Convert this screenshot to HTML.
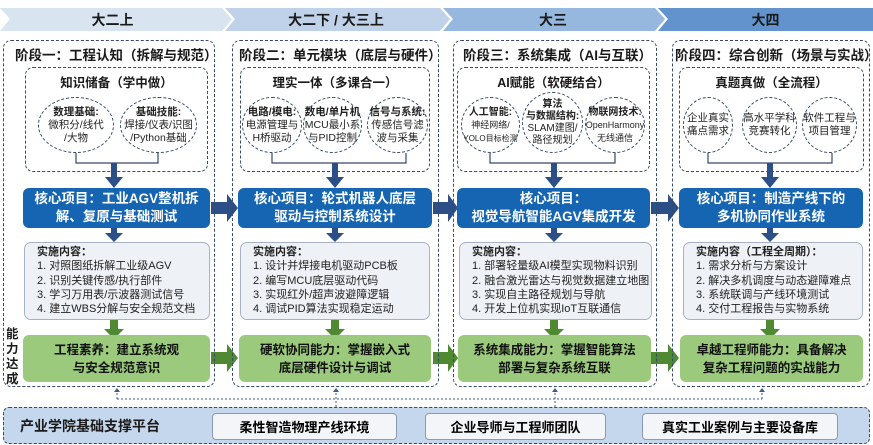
<!DOCTYPE html>
<html><head><meta charset="utf-8"><style>
body{margin:0;width:873px;height:445px;background:#fff;position:relative;overflow:hidden;font-family:"Liberation Sans","Noto Sans CJK SC",sans-serif;}
.a{position:absolute;box-sizing:border-box;}
.stage{border:1.5px dashed #34496b;border-radius:8px;}
.st{font-weight:bold;font-size:13.5px;color:#1a1a1a;white-space:nowrap;}
.inner{border:1.3px dashed #34496b;border-radius:8px;}
.it{font-weight:bold;font-size:12.5px;color:#1a1a1a;text-align:center;}
.el{border:1.3px dashed #34496b;border-radius:50%;display:flex;align-items:center;justify-content:center;text-align:center;font-size:10.5px;line-height:13px;color:#222;background:#fff;white-space:nowrap;}
.blue{background:#1565b3;border-radius:6px;color:#fff;font-weight:bold;font-size:13.5px;line-height:18px;display:flex;align-items:center;justify-content:center;text-align:center;}
.impl{background:#eef1f6;border:1px solid #a7b2c4;border-radius:7px;font-size:11px;line-height:14.3px;color:#222;padding:2px 0 0 12px;white-space:nowrap;}
.impl b{font-size:11px;}
.green{background:#9cca7c;border-radius:6px;color:#111;font-weight:bold;font-size:12.5px;line-height:18px;display:flex;align-items:center;justify-content:center;text-align:center;}
.wb{background:#f3f5f8;border:1px solid #8a9ab3;border-radius:4px;font-weight:bold;font-size:13px;display:flex;align-items:center;justify-content:center;}
</style></head><body>
<svg class="a" style="left:0;top:0" width="873" height="445">
<polygon points="0,8 222,8 232,19 222,31 0,31 10,19" fill="#d9e4f1"/>
<polygon points="225,8 440,8 450,19 440,31 225,31 235,19" fill="#bfd2e9"/>
<polygon points="443,8 655,8 665,19 655,31 443,31 453,19" fill="#97b8de"/>
<polygon points="658,8 873,8 873,31 658,31 668,19" fill="#6393cc"/>
<g stroke="#34496b" stroke-width="1.2" fill="none">
<path d="M76,153V163H158V153"/><path d="M272,153V163H406V153"/>
<path d="M490,153V163H615V153"/><path d="M708,153V163H832V153"/>
</g>
<g fill="#2c4f87">
<path d="M111,163h6v14h6l-9,11-9-11h6z"/><path d="M332,163h6v14h6l-9,11-9-11h6z"/>
<path d="M551,163h6v14h6l-9,11-9-11h6z"/><path d="M767,163h6v14h6l-9,11-9-11h6z"/>
<path d="M111,228h6v5h6l-9,9-9-9h6z"/><path d="M332,228h6v5h6l-9,9-9-9h6z"/>
<path d="M551,228h6v5h6l-9,9-9-9h6z"/><path d="M767,228h6v5h6l-9,9-9-9h6z"/>
<path d="M211,202h16v-8l11,14-11,14v-8h-16z"/><path d="M433,202h15v-8l10,14-10,14v-8h-15z"/>
<path d="M651,202h17v-8l11,14-11,14v-8h-17z"/>
</g>
<g fill="#4f8a33">
<path d="M110,320h8v9h6l-10,10-10-10h6z"/><path d="M331,320h8v9h6l-10,10-10-10h6z"/>
<path d="M550,320h8v9h6l-10,10-10-10h6z"/><path d="M766,320h8v9h6l-10,10-10-10h6z"/>
<path d="M211,352h16v-8l11,14-11,14v-8h-16z"/><path d="M433,352h15v-8l10,14-10,14v-8h-15z"/>
<path d="M651,352h17v-8l11,14-11,14v-8h-17z"/>
</g>
<g stroke="#3c5a8a" stroke-width="1" fill="none" stroke-dasharray="2,2">
<path d="M117,399H762"/><path d="M117,399V390"/><path d="M336,407V390"/><path d="M555,407V390"/><path d="M762,399V390"/>
</g>
<g fill="#3c5a8a"><path d="M114,392l3,-4 3,4z"/><path d="M333,392l3,-4 3,4z"/><path d="M552,392l3,-4 3,4z"/><path d="M759,392l3,-4 3,4z"/></g>
</svg>
<div class="a st" style="left:0;top:10px;width:225px;text-align:center;font-size:14px;line-height:20px">大二上</div>
<div class="a st" style="left:225px;top:10px;width:222px;text-align:center;font-size:14px;line-height:20px">大二下 / 大三上</div>
<div class="a st" style="left:443px;top:10px;width:220px;text-align:center;font-size:14px;line-height:20px">大三</div>
<div class="a st" style="left:658px;top:10px;width:215px;text-align:center;font-size:14px;line-height:20px">大四</div>

<div class="a stage" style="left:3px;top:40px;width:212px;height:347px"></div>
<div class="a stage" style="left:232px;top:40px;width:207px;height:347px"></div>
<div class="a stage" style="left:453px;top:40px;width:204px;height:347px"></div>
<div class="a stage" style="left:672px;top:40px;width:198px;height:347px"></div>

<div class="a st" style="left:15px;top:44px">阶段一：工程认知（拆解与规范）</div>
<div class="a st" style="left:239px;top:44px">阶段二：单元模块（底层与硬件）</div>
<div class="a st" style="left:463px;top:44px">阶段三：系统集成（AI与互联）</div>
<div class="a st" style="left:675px;top:44px">阶段四：综合创新（场景与实战）</div>

<div class="a inner" style="left:25px;top:67px;width:183px;height:105px"></div>
<div class="a inner" style="left:240px;top:67px;width:190px;height:105px"></div>
<div class="a inner" style="left:457px;top:67px;width:193px;height:105px"></div>
<div class="a inner" style="left:679px;top:67px;width:185px;height:105px"></div>
<div class="a it" style="left:25px;top:72px;width:183px">知识储备（学中做）</div>
<div class="a it" style="left:240px;top:72px;width:190px">理实一体（多课合一）</div>
<div class="a it" style="left:457px;top:72px;width:193px">AI赋能（软硬结合）</div>
<div class="a it" style="left:679px;top:72px;width:185px">真题真做（全流程）</div>

<div class="a el" style="left:38px;top:97px;width:76px;height:56px"><span><b>数理基础:</b><br>微积分/线代<br>/大物</span></div>
<div class="a el" style="left:120px;top:97px;width:77px;height:56px"><span><b>基础技能:</b><br>焊接/仪表/识图<br>/Python基础</span></div>
<div class="a el" style="left:242px;top:97px;width:60px;height:56px"><span><b>电路/模电:</b><br>电源管理与<br>H桥驱动</span></div>
<div class="a el" style="left:303px;top:97px;width:59px;height:56px"><span><b>数电/单片机</b><br>MCU最小系<br>与PID控制</span></div>
<div class="a el" style="left:367px;top:97px;width:61px;height:56px"><span><b>信号与系统:</b><br>传感信号滤<br>波与采集</span></div>
<div class="a el" style="left:461px;top:97px;width:59px;height:56px;font-size:9px"><span><b style="font-size:10px">人工智能:</b><br>神经网络/<br><span style="font-size:8px">YOLO目标检测</span></span></div>
<div class="a el" style="left:522px;top:92px;width:61px;height:61px;font-size:10px;line-height:12px"><span><b>算法<br>与数据结构:</b><br>SLAM建图/<br>路径规划</span></div>
<div class="a el" style="left:585px;top:97px;width:60px;height:56px;font-size:9px"><span><b style="font-size:10px">物联网技术:</b><br>OpenHarmony<br>无线通信</span></div>
<div class="a el" style="left:683px;top:97px;width:50px;height:56px"><span>企业真实<br>痛点需求</span></div>
<div class="a el" style="left:742px;top:97px;width:55px;height:56px"><span>高水平学科<br>竞赛转化</span></div>
<div class="a el" style="left:802px;top:97px;width:55px;height:56px"><span>软件工程与<br>项目管理</span></div>

<div class="a blue" style="left:23px;top:188px;width:187px;height:40px">核心项目：工业AGV整机拆<br>解、复原与基础测试</div>
<div class="a blue" style="left:238px;top:188px;width:194px;height:40px">核心项目：轮式机器人底层<br>驱动与控制系统设计</div>
<div class="a blue" style="left:457px;top:188px;width:193px;height:40px">核心项目：<br>视觉导航智能AGV集成开发</div>
<div class="a blue" style="left:679px;top:188px;width:184px;height:40px">核心项目：制造产线下的<br>多机协同作业系统</div>

<div class="a impl" style="left:24px;top:242px;width:186px;height:78px"><b>实施内容：</b><br>1. 对照图纸拆解工业级AGV<br>2. 识别关键传感/执行部件<br>3. 学习万用表/示波器测试信号<br>4. 建立WBS分解与安全规范文档</div>
<div class="a impl" style="left:240px;top:242px;width:190px;height:78px"><b>实施内容：</b><br>1. 设计并焊接电机驱动PCB板<br>2. 编写MCU底层驱动代码<br>3. 实现红外/超声波避障逻辑<br>4. 调试PID算法实现稳定运动</div>
<div class="a impl" style="left:459px;top:242px;width:193px;height:78px"><b>实施内容：</b><br>1. 部署轻量级AI模型实现物料识别<br>2. 融合激光雷达与视觉数据建立地图<br>3. 实现自主路径规划与导航<br>4. 开发上位机实现IoT互联通信</div>
<div class="a impl" style="left:683px;top:242px;width:180px;height:78px"><b>实施内容（工程全周期）：</b><br>1. 需求分析与方案设计<br>2. 解决多机调度与动态避障难点<br>3. 系统联调与产线环境测试<br>4. 交付工程报告与实物系统</div>

<div class="a" style="left:6px;top:327px;width:14px;font-weight:bold;font-size:12.5px;line-height:15px;color:#1a1a1a">能<br>力<br>达<br>成</div>
<div class="a green" style="left:23px;top:335px;width:187px;height:47px">工程素养：建立系统观<br>与安全规范意识</div>
<div class="a green" style="left:239px;top:335px;width:192px;height:47px">硬软协同能力：掌握嵌入式<br>底层硬件设计与调试</div>
<div class="a green" style="left:458px;top:335px;width:193px;height:47px">系统集成能力：掌握智能算法<br>部署与复杂系统互联</div>
<div class="a green" style="left:680px;top:335px;width:183px;height:47px">卓越工程师能力：具备解决<br>复杂工程问题的实战能力</div>

<div class="a" style="left:3px;top:407px;width:867px;height:37px;background:#c5d7ec;border:1.3px dashed #34496b;border-radius:6px"></div>
<div class="a st" style="left:20px;top:416px;font-size:14px">产业学院基础支撑平台</div>
<div class="a wb" style="left:212px;top:413px;width:185px;height:27px">柔性智造物理产线环境</div>
<div class="a wb" style="left:425px;top:413px;width:181px;height:27px">企业导师与工程师团队</div>
<div class="a wb" style="left:642px;top:413px;width:196px;height:27px">真实工业案例与主要设备库</div>
</body></html>
